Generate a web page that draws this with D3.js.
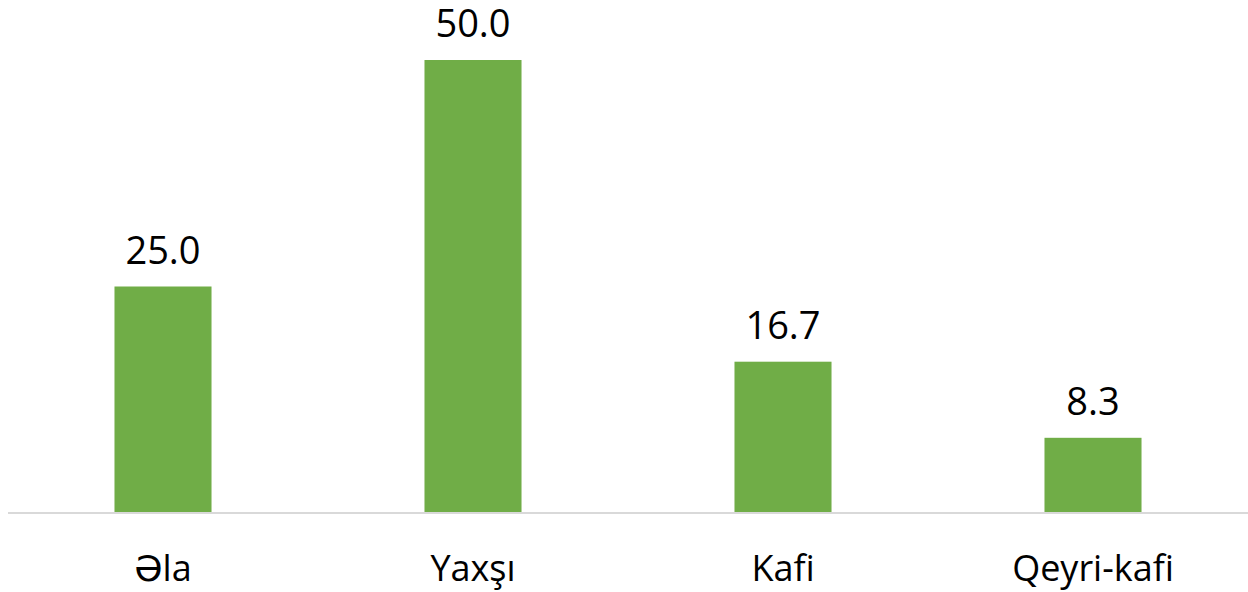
<!DOCTYPE html>
<html>
<head>
<meta charset="utf-8">
<script src="https://cdn.jsdelivr.net/npm/d3@7"></script>
<style>
  body { margin: 0; background: #fff; }
  text { font-family: "Open Sans", "DejaVu Sans", sans-serif; fill: #000; }
</style>
</head>
<body>
<script>
// data
var categories = ["Əla", "Yaxşı", "Kafi", "Qeyri-kafi"];
var values = [25.0, 50.0, 16.7, 8.3];
var labels = ["25.0", "50.0", "16.7", "8.3"];

var width = 1248, height = 592;
var margin = {top: 0, right: 0, bottom: 79, left: 8};
var baseY = height - margin.bottom; // 513

var svg = d3.select("body").append("svg")
    .attr("width", width)
    .attr("height", height);

var xScale = d3.scaleBand()
    .domain(categories)
    .range([margin.left, width])
    .paddingInner(0.687)
    .paddingOuter(0.3435);

var yScale = d3.scaleLinear()
    .domain([0, 50])
    .range([baseY, 60]);

// bars
svg.selectAll(".bar")
    .data(values)
  .enter().append("rect")
    .attr("class", "bar")
    .attr("x", function(d, i) { return xScale(categories[i]); })
    .attr("y", function(d) { return yScale(d); })
    .attr("width", xScale.bandwidth())
    .attr("height", function(d) { return baseY - yScale(d); })
    .attr("fill", "#70ad47");

// axis line + category labels
var xAxis = d3.axisBottom(xScale).tickSize(0).tickPadding(42);
var gx = svg.append("g")
    .attr("transform", "translate(0," + baseY + ")")
    .call(xAxis);
gx.select(".domain")
    .attr("stroke", "#d9d9d9")
    .attr("stroke-width", 2)
    .attr("d", "M" + margin.left + ",0H" + width);
gx.selectAll("text")
    .attr("font-size", "36px")
    .attr("font-family", "'Open Sans', sans-serif")
    .attr("fill", "#000");

// value labels
svg.selectAll(".val")
    .data(values)
  .enter().append("text")
    .attr("class", "val")
    .attr("x", function(d, i) { return xScale(categories[i]) + xScale.bandwidth() / 2; })
    .attr("y", function(d) { return yScale(d) - 23; })
    .attr("text-anchor", "middle")
    .attr("font-size", "38px")
    .text(function(d, i) { return labels[i]; });
</script>
</body>
</html>
